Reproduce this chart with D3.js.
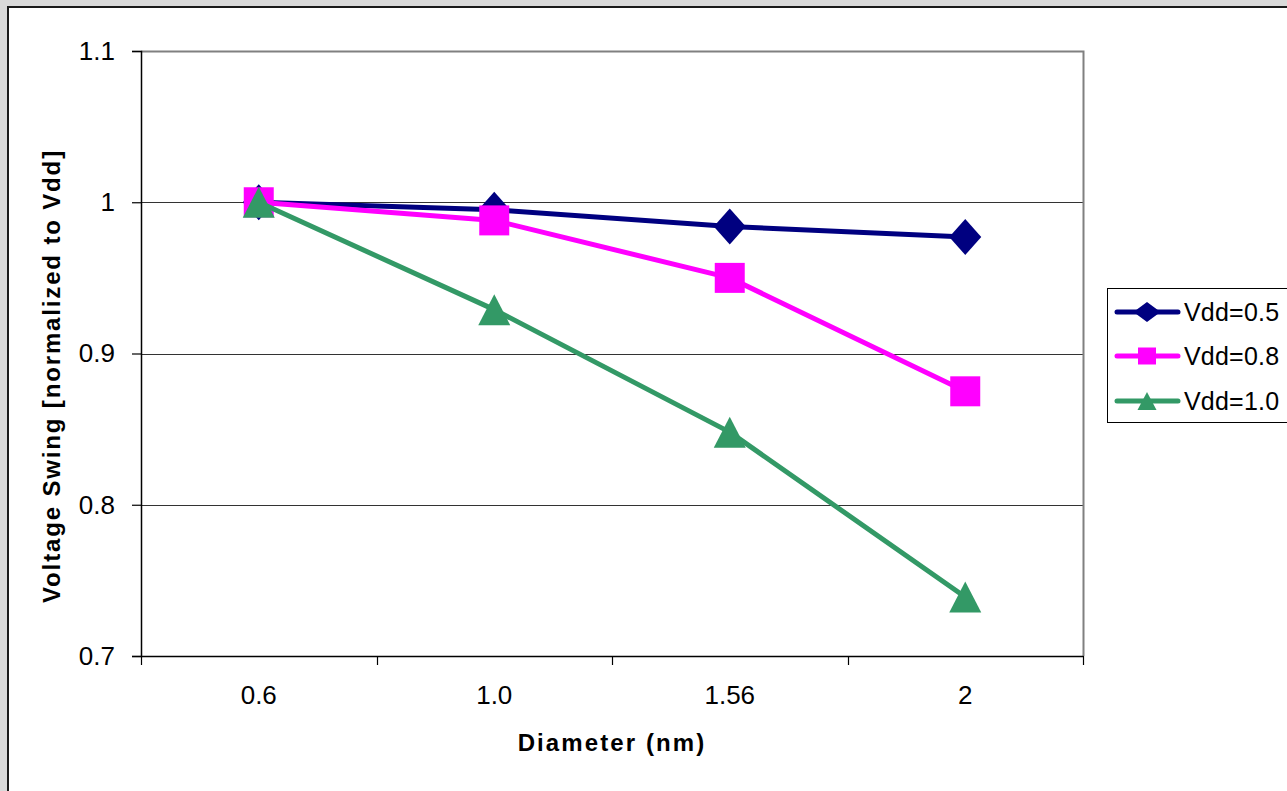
<!DOCTYPE html>
<html>
<head>
<meta charset="utf-8">
<script src="https://cdn.jsdelivr.net/npm/d3@7"></script>
<style>
  html, body { margin: 0; padding: 0; background: #d9d9d9; overflow: hidden; }
  svg { display: block; font-family: "Liberation Sans", Arial, sans-serif; }
</style>
</head>
<body>
<svg id="chart" width="1287" height="791"></svg>
<script>
// ---- data ----
const categories = ["0.6", "1.0", "1.56", "2"];
const seriesNames = ["Vdd=0.5", "Vdd=0.8", "Vdd=1.0"];
const vdd05 = [1.0, 0.995, 0.984, 0.977];
const vdd08 = [1.0, 0.988, 0.950, 0.875];
const vdd10 = [1.0, 0.929, 0.848, 0.739];
const yTicks = [0.7, 0.8, 0.9, 1.0, 1.1];
const yTickLabels = ["0.7", "0.8", "0.9", "1", "1.1"];
const seriesColors = ["#000080", "#FF00FF", "#339966"];
const seriesMarkers = ["diamond", "square", "triangle"];

const series = [vdd05, vdd08, vdd10].map((vals, i) => ({
  name: seriesNames[i], values: vals, color: seriesColors[i], marker: seriesMarkers[i]
}));

const svg = d3.select("#chart");

// chart area frame
svg.append("rect").attr("x", 8).attr("y", 7).attr("width", 1400).attr("height", 900)
  .attr("fill", "#ffffff").attr("stroke", "#1a1a1a").attr("stroke-width", 2);

const L = 141, R = 1083, T = 51, B = 656;
const x = d3.scaleBand().domain(categories).range([L, R]);
const y = d3.scaleLinear().domain([0.7, 1.1]).range([B, T]);

// gridlines
svg.append("g")
  .selectAll("line").data(yTicks.slice(1, -1)).join("line")
  .attr("x1", L).attr("x2", R)
  .attr("y1", d => Math.round(y(d)) + 0.5).attr("y2", d => Math.round(y(d)) + 0.5)
  .attr("stroke", "#333").attr("stroke-width", 1);

// plot border top & right (gray)
svg.append("path")
  .attr("d", `M${L},${T + 0.5}H${R + 0.5}V${B}`)
  .attr("fill", "none").attr("stroke", "#808080").attr("stroke-width", 2);

// Y axis
const yAxis = d3.axisLeft(y).tickValues(yTicks)
  .tickFormat((d, i) => yTickLabels[i]).tickSize(9).tickPadding(17);
const gy = svg.append("g").attr("transform", `translate(${L},0)`).call(yAxis);
gy.select(".domain").attr("stroke", "#000").attr("stroke-width", 1.5);
gy.selectAll(".tick line").attr("stroke", "#000").attr("stroke-width", 1.2);
gy.selectAll(".tick text").attr("font-size", 26).attr("fill", "#000")
  .attr("font-family", "Liberation Sans, Arial, sans-serif");

// X axis: ticks at category boundaries
const xAxis = d3.axisBottom(x).tickSize(0).tickPadding(30);
const gx = svg.append("g").attr("transform", `translate(0,${B})`).call(xAxis);
gx.select(".domain").attr("stroke", "#000").attr("stroke-width", 1.5);
gx.selectAll(".tick text").attr("font-size", 26).attr("fill", "#000")
  .attr("font-family", "Liberation Sans, Arial, sans-serif");
const boundaries = categories.map(c => x(c)).concat([x(categories[categories.length - 1]) + x.bandwidth()]);
svg.append("g").selectAll("line").data(boundaries).join("line")
  .attr("x1", d => Math.round(d) + 0.5).attr("x2", d => Math.round(d) + 0.5)
  .attr("y1", B).attr("y2", B + 9)
  .attr("stroke", "#000").attr("stroke-width", 1.2);

// marker path generators
function markerPath(type, w, h) {
  const hw = w / 2, hh = h / 2;
  if (type === "diamond") return `M0,${-hh}L${hw},0L0,${hh}L${-hw},0Z`;
  if (type === "square") return `M${-hw},${-hh}H${hw}V${hh}H${-hw}Z`;
  return `M0,${-hh}L${hw},${hh}L${-hw},${hh}Z`;
}
const markerSize = { diamond: [32, 36], square: [30, 30], triangle: [32, 31] };
const legendMarkerSize = { diamond: [27, 20], square: [18, 17], triangle: [19, 18] };

const line = d3.line().x((d, i) => x(categories[i]) + x.bandwidth() / 2).y(d => y(d));

series.forEach(s => {
  const g = svg.append("g");
  g.append("path").datum(s.values).attr("d", line)
    .attr("fill", "none").attr("stroke", s.color).attr("stroke-width", 5)
    .attr("stroke-linejoin", "round");
  g.selectAll("path.mk").data(s.values).join("path").attr("class", "mk")
    .attr("d", markerPath(s.marker, ...markerSize[s.marker]))
    .attr("transform", (d, i) => `translate(${x(categories[i]) + x.bandwidth() / 2},${y(d)})`)
    .attr("fill", s.color);
});

// axis titles
svg.append("text")
  .attr("x", (L + R) / 2).attr("y", 751)
  .attr("text-anchor", "middle").attr("font-size", 24).attr("font-weight", "bold")
  .attr("letter-spacing", 2.1)
  .text("Diameter (nm)");
svg.append("text")
  .attr("transform", "translate(60,376) rotate(-90)")
  .attr("text-anchor", "middle").attr("font-size", 24).attr("font-weight", "bold")
  .attr("letter-spacing", 1.85)
  .text("Voltage Swing [normalized to Vdd]");

// legend
const lg = svg.append("g");
lg.append("rect").attr("x", 1107.5).attr("y", 288.5).attr("width", 300).attr("height", 134)
  .attr("fill", "#fff").attr("stroke", "#000").attr("stroke-width", 1);
const legendRows = [312, 356, 401];
series.forEach((s, i) => {
  const yy = legendRows[i];
  lg.append("line").attr("x1", 1117).attr("x2", 1178).attr("y1", yy).attr("y2", yy)
    .attr("stroke", s.color).attr("stroke-width", 5).attr("stroke-linecap", "round");
  lg.append("path").attr("d", markerPath(s.marker, ...legendMarkerSize[s.marker]))
    .attr("transform", `translate(1147,${yy})`).attr("fill", s.color);
  lg.append("text").attr("x", 1184).attr("y", yy + 9).attr("font-size", 25)
    .attr("letter-spacing", 0.2).attr("fill", "#000").text(s.name);
});
</script>
</body>
</html>
